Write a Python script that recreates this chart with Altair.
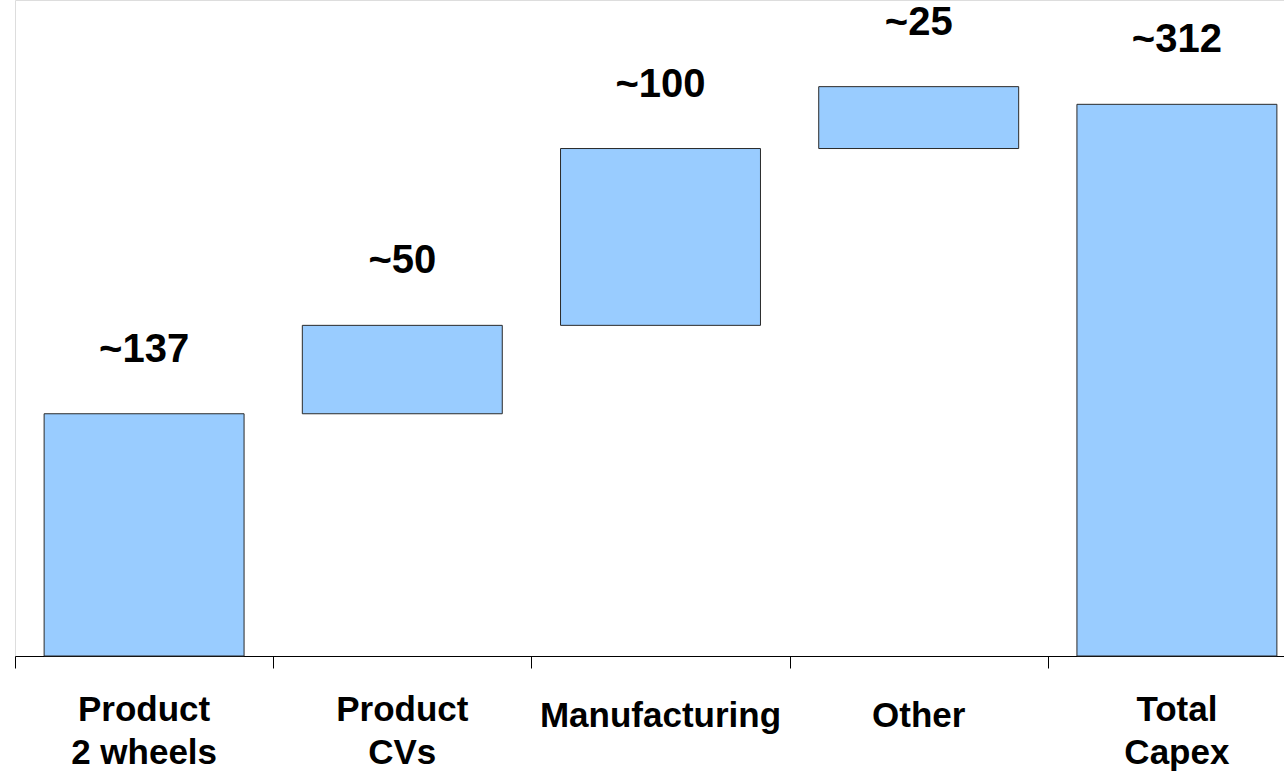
import altair as alt
import pandas as pd

categories = ["Product|2 wheels", "Product|CVs", "Manufacturing", "Other", "Total|Capex"]
values = [137, 50, 100, 35, 312]
labels = ["~137", "~50", "~100", "~25", "~312"]
is_total = [False, False, False, False, True]

rows = []
running = 0
for cat, val, lab, tot in zip(categories, values, labels, is_total):
    if tot:
        start, end = 0, val
    else:
        start, end = running, running + val
        running = end
    rows.append({"cat": cat, "start": start, "end": end, "label": lab,
                 "multi": "|" in cat})
df = pd.DataFrame(rows)

FONT = "Liberation Sans"

x_scale = alt.Scale(domain=categories, range=[0, 1291], paddingInner=0.2256, paddingOuter=0.1128)
y_scale = alt.Scale(domain=[0, 371], nice=False, zero=False)

base = alt.Chart(df)

bars = base.mark_bar(color="#99CCFF", stroke="#2a2a2a", strokeWidth=1).encode(
    x=alt.X("cat:N", scale=x_scale, sort=categories,
            axis=alt.Axis(title=None, labels=False, domainColor="#000000", domainWidth=1,
                          tickColor="#000000", tickSize=12, tickWidth=1, tickOffset=-129.1,
                          grid=False)),
    y=alt.Y("start:Q", scale=y_scale, axis=None),
    y2="end:Q",
)

vals = base.mark_text(font=FONT, fontWeight="bold", fontSize=40, color="#000000",
                      baseline="middle", align="center", dy=-64).encode(
    x=alt.X("cat:N", scale=x_scale, sort=categories),
    y=alt.Y("end:Q", scale=y_scale),
    text="label:N",
)

single_labels = base.transform_filter("!datum.multi").mark_text(
    font=FONT, fontWeight="bold", fontSize=35, color="#000000",
    baseline="middle", align="center").encode(
    x=alt.X("cat:N", scale=x_scale, sort=categories),
    y=alt.value(716),
    text="cat:N",
)

multi_labels = base.transform_filter("datum.multi").mark_text(
    font=FONT, fontWeight="bold", fontSize=35, color="#000000",
    baseline="middle", align="center", lineBreak="|", lineHeight=43).encode(
    x=alt.X("cat:N", scale=x_scale, sort=categories),
    y=alt.value(710),
    text="cat:N",
)

chart = alt.layer(bars, vals, single_labels, multi_labels).properties(
    width=1269, height=656,
    autosize=alt.AutoSizeParams(type="none"),
    padding={"left": 15, "top": 0, "right": 0, "bottom": 127},
).configure_view(stroke=None).configure(background="#ffffff")

chart.save("out.html", embed_options={"renderer": "svg", "actions": False})
